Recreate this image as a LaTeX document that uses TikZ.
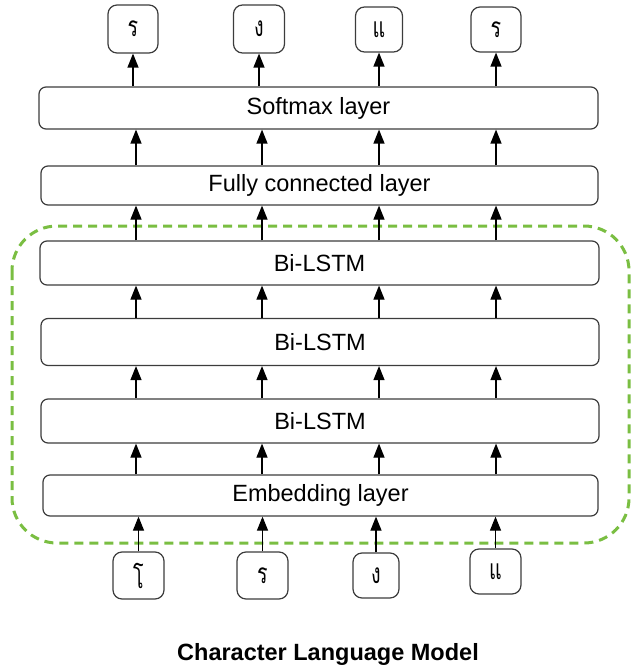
\documentclass[tikz,border=0pt]{standalone}
\usepackage{fontspec}
\setmainfont{Liberation Sans}
\newfontfamily\thaifont[Script=Thai,FakeStretch=0.7]{Loma}
\usetikzlibrary{arrows.meta}
\definecolor{boxgray}{RGB}{60,60,60}
\definecolor{groupgreen}{RGB}{122,190,66}
\begin{document}
\begin{tikzpicture}[x=1pt,y=-1pt]
\tikzstyle{every node}+=[inner sep=0pt]
\tikzstyle{layer}=[draw=boxgray,line width=1.2pt,rounded corners=7pt,font=\fontsize{23.5}{28}\selectfont]
\tikzstyle{charbox}=[draw=boxgray,line width=1.2pt,rounded corners=9pt,minimum width=50pt,minimum height=47pt,font=\thaifont\fontsize{28}{32}\selectfont]
\tikzstyle{arr}=[line width=1.2pt,-{Triangle[length=14pt,width=11pt]}]
\useasboundingbox (0,0) rectangle (640,671);
\draw [groupgreen,line width=3pt,dash pattern=on 9pt off 6pt,rounded corners=45pt] (12,226) rectangle (629,543);
\node (soft) at (318.5,108) [layer,minimum width=559pt,minimum height=42pt] {Softmax layer};
\node (full) at (319.5,185.5) [layer,minimum width=557pt,minimum height=39pt] {Fully connected layer};
\node (lstma) at (319.5,263) [layer,minimum width=559pt,minimum height=44pt] {Bi-LSTM};
\node (lstmb) at (320,342) [layer,minimum width=558pt,minimum height=47pt] {Bi-LSTM};
\node (lstmc) at (320,421) [layer,minimum width=558pt,minimum height=44pt] {Bi-LSTM};
\node (emb) at (320.5,495.5) [layer,minimum width=555pt,minimum height=41pt] {Embedding layer};
\node (outa) at (133,29) [charbox,minimum height=48pt] {ร};
\node (outb) at (259,29) [charbox,minimum width=51pt,minimum height=48pt] {ง};
\node (outc) at (379,29.5) [charbox,minimum width=47pt,minimum height=45pt] {แ};
\node (outd) at (496,29.5) [charbox,minimum height=45pt] {ร};
\node (ina) at (138.5,575.5) [charbox,minimum width=51pt] {โ};
\node (inb) at (262.5,575.5) [charbox,minimum width=51pt] {ร};
\node (inc) at (376,575.5) [charbox,minimum width=46pt,minimum height=45pt] {ง};
\node (ind) at (495.5,571.5) [charbox,minimum width=51pt,minimum height=45pt] {แ};
\coordinate (cola) at (136,0);
\coordinate (colb) at (262,0);
\coordinate (colc) at (379,0);
\coordinate (cold) at (496,0);
\draw [arr] (soft.north -| outa) -- (outa.south);
\draw [arr] (soft.north -| outb) -- (outb.south);
\draw [arr] (soft.north -| outc) -- (outc.south);
\draw [arr] (soft.north -| outd) -- (outd.south);
\draw [arr] (full.north -| cola) -- (soft.south -| cola);
\draw [arr] (full.north -| colb) -- (soft.south -| colb);
\draw [arr] (full.north -| colc) -- (soft.south -| colc);
\draw [arr] (full.north -| cold) -- (soft.south -| cold);
\draw [arr] (lstma.north -| cola) -- (full.south -| cola);
\draw [arr] (lstma.north -| colb) -- (full.south -| colb);
\draw [arr] (lstma.north -| colc) -- (full.south -| colc);
\draw [arr] (lstma.north -| cold) -- (full.south -| cold);
\draw [arr] (lstmb.north -| cola) -- (lstma.south -| cola);
\draw [arr] (lstmb.north -| colb) -- (lstma.south -| colb);
\draw [arr] (lstmb.north -| colc) -- (lstma.south -| colc);
\draw [arr] (lstmb.north -| cold) -- (lstma.south -| cold);
\draw [arr] (lstmc.north -| cola) -- (lstmb.south -| cola);
\draw [arr] (lstmc.north -| colb) -- (lstmb.south -| colb);
\draw [arr] (lstmc.north -| colc) -- (lstmb.south -| colc);
\draw [arr] (lstmc.north -| cold) -- (lstmb.south -| cold);
\draw [arr] (emb.north -| cola) -- (lstmc.south -| cola);
\draw [arr] (emb.north -| colb) -- (lstmc.south -| colb);
\draw [arr] (emb.north -| colc) -- (lstmc.south -| colc);
\draw [arr] (emb.north -| cold) -- (lstmc.south -| cold);
\draw [arr] (ina.north) -- (emb.south -| ina);
\draw [arr] (inb.north) -- (emb.south -| inb);
\draw [arr] (inc.north) -- (emb.south -| inc);
\draw [arr] (ind.north) -- (emb.south -| ind);
\node (title) at (328,654) [font=\bfseries\fontsize{23.5}{28}\selectfont] {Character Language Model};
\end{tikzpicture}
\end{document}
